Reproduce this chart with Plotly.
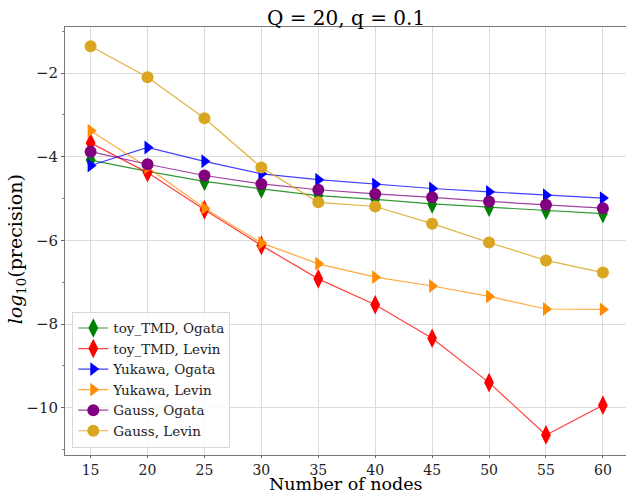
import plotly.graph_objects as go

nodes = [15, 20, 25, 30, 35, 40, 45, 50, 55, 60]

toy_ogata = [-4.08, -4.35, -4.59, -4.77, -4.93, -5.02, -5.13, -5.21, -5.28, -5.36]
toy_levin = [-3.67, -4.38, -5.27, -6.12, -6.92, -7.54, -8.34, -9.40, -10.65, -9.94]
yuk_ogata = [-4.21, -3.78, -4.11, -4.41, -4.55, -4.66, -4.76, -4.84, -4.92, -4.99]
yuk_levin = [-3.38, -4.25, -5.23, -6.06, -6.56, -6.88, -7.09, -7.34, -7.64, -7.65]
gau_ogata = [-3.88, -4.18, -4.45, -4.65, -4.79, -4.89, -4.97, -5.07, -5.15, -5.23]
gau_levin = [-1.36, -2.10, -3.08, -4.26, -5.09, -5.19, -5.60, -6.05, -6.48, -6.77]

series = [
    ("toy_TMD, Ogata", toy_ogata, "green", "rgba(0,128,0,0.8)", "diamond-tall", 14),
    ("toy_TMD, Levin", toy_levin, "red", "rgba(255,0,0,0.75)", "diamond-tall", 14),
    ("Yukawa, Ogata", yuk_ogata, "blue", "rgba(0,0,255,0.75)", "triangle-right", 12),
    ("Yukawa, Levin", yuk_levin, "darkorange", "rgba(255,140,0,0.75)", "triangle-right", 12),
    ("Gauss, Ogata", gau_ogata, "purple", "rgba(128,0,128,0.75)", "circle", 12),
    ("Gauss, Levin", gau_levin, "goldenrod", "rgba(218,165,32,0.85)", "circle", 12),
]

fig = go.Figure()
for name, vals, mc, lc, sym, sz in series:
    fig.add_trace(go.Scatter(
        x=nodes, y=vals, name=name, mode="lines+markers",
        line=dict(color=lc, width=1.2),
        marker=dict(color=mc, symbol=sym, size=sz, line=dict(width=0)),
    ))

font = "DejaVu Serif"
fig.update_layout(
    width=626, height=490,
    margin=dict(l=65, r=0, t=27, b=35, autoexpand=False),
    plot_bgcolor="white", paper_bgcolor="white",
    font=dict(family=font, color="#222"),
    legend=dict(x=0.013, y=0.017, xanchor="left", yanchor="bottom",
                bgcolor="rgba(255,255,255,0.85)", bordercolor="#d8d8d8", borderwidth=1,
                font=dict(family=font, size=13.5, color="#222"), tracegroupgap=0,
                itemwidth=30),
    showlegend=True,
    annotations=[
        dict(text="Q = 20, q = 0.1", xref="paper", yref="paper", x=0.5, y=1.021,
             xanchor="center", yanchor="middle", showarrow=False,
             font=dict(family=font, size=20, color="black")),
        dict(text="Number of nodes", xref="paper", yref="paper", x=0.5, y=-0.068,
             xanchor="center", yanchor="middle", showarrow=False,
             font=dict(family=font, size=17.5, color="black")),
        dict(text="<i>log</i><sub>10</sub>(precision)", xref="paper", yref="paper",
             x=-0.086, y=0.48, xanchor="center", yanchor="middle", showarrow=False,
             textangle=-90, font=dict(family=font, size=19, color="black")),
    ],
)
fig.update_xaxes(
    range=[12.75, 62.03], tickvals=nodes, ticks="outside", ticklen=2, tickcolor="#666",
    showgrid=True, gridcolor="#dcdcdc", gridwidth=1,
    showline=True, linecolor="#777", linewidth=1, mirror=True,
    tickfont=dict(family=font, size=14, color="#222"),
    automargin=False, zeroline=False,
)
fig.update_yaxes(
    range=[-11.13, -0.90], tickvals=[-2, -4, -6, -8, -10], ticks="outside", ticklen=3, tickcolor="#666",
    minor=dict(tickvals=[-1, -3, -5, -7, -9, -11], ticks="outside", ticklen=2, tickcolor="#888", showgrid=False),
    showgrid=True, gridcolor="#dcdcdc", gridwidth=1,
    showline=True, linecolor="#777", linewidth=1,
    tickfont=dict(family=font, size=15, color="#222"),
    automargin=False, zeroline=False,
)

fig.write_html("out.html", config={"displayModeBar": False},
               post_script="document.body.style.margin='0';document.body.style.padding='0';")
